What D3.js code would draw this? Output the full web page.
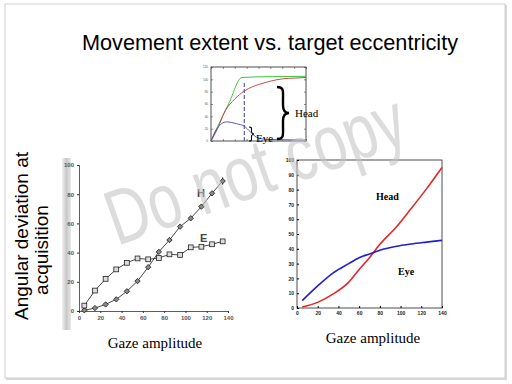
<!DOCTYPE html>
<html>
<head>
<meta charset="utf-8">
<script src="https://cdn.jsdelivr.net/npm/d3@7"></script>
<style>
  body { margin: 0; background: #fff; }
  svg { display: block; }
</style>
</head>
<body>
<div id="viz"></div>
<script>
// left chart (scanned figure): gaze amplitude vs angular deviation
const gazeX = [5, 15, 25, 35, 45, 55, 65, 75, 85, 95, 105, 115, 125, 135];
const headLeft = [0.5, 2, 4.5, 8, 13.5, 20.5, 30, 40.5, 48.6, 57.8, 63.5, 71.5, 80.6, 89];
const eyeLeft = [3.7, 14, 22, 28.5, 33, 36, 35.4, 36.3, 38.8, 38.4, 43.6, 44, 45.7, 47.7];
const leftXTicks = [0, 20, 40, 60, 80, 100, 120, 140];
const leftYTicks = [0, 20, 40, 60, 80, 100];

// right chart (model curves)
const modelX = [5, 20, 35, 50, 60, 70, 80, 95, 110, 125, 140];
const headRight = [0.7, 3.8, 9.5, 17.5, 26, 34, 43, 54, 67, 80.5, 95];
const eyeRight = [5, 15, 23.8, 30, 34, 36.5, 39, 41.5, 43.2, 44.5, 45.7];
const rightXTicks = [0, 20, 40, 60, 80, 100, 120, 140];
const rightYTicks = [0, 10, 20, 30, 40, 50, 60, 70, 80, 90, 100];

// small inset at top: time course of gaze, head and eye
const insetGreenX = [0, 10, 30, 52, 80, 120, 160];
const insetGreen = [0, 21, 61, 103, 104, 104.5, 105];
const insetRedX = [0, 10, 24, 40, 56, 70, 82, 100, 122, 140, 160];
const insetRed = [0, 18, 49, 68, 81, 88, 92, 97, 101, 102, 103];
const insetBlueX = [0, 10, 26, 43, 56, 66, 77, 94, 120, 150, 160];
const insetBlue = [0, 20, 31, 28, 24, 15, 6, 2.6, 2, 1.6, 1.5];
const insetXTicks = [0, 20, 40, 60, 80, 100, 120, 140, 160];
const insetYTicks = [0, 20, 40, 60, 80, 100, 120];
const insetDash = 56;

const svg = d3.select("#viz").append("svg")
  .attr("width", 512)
  .attr("height", 384);

// slide frame with soft shadow
svg.append("rect").attr("x", 6).attr("y", 5).attr("width", 501).attr("height", 375)
  .attr("fill", "#d8d8d8");
svg.append("rect").attr("x", 5).attr("y", 4).attr("width", 500).attr("height", 374)
  .attr("fill", "#fff").attr("stroke", "#cfcfcf");

svg.append("text")
  .attr("x", 270).attr("y", 50)
  .attr("text-anchor", "middle")
  .attr("font-family", "Arial, 'Liberation Sans', sans-serif")
  .attr("font-size", 21.7)
  .attr("fill", "#000")
  .text("Movement extent vs. target eccentricity");

// ---------- inset ----------
const ix = d3.scaleLinear().domain([0, 160]).range([211, 306]);
const iy = d3.scaleLinear().domain([0, 120]).range([141, 67]);
const inset = svg.append("g");
inset.append("rect").attr("x", 211).attr("y", 67).attr("width", 95).attr("height", 74)
  .attr("fill", "none").attr("stroke", "#222").attr("stroke-width", 0.8);
// tick marks only (no labels) on bottom, top and right
const bare = g => { g.select(".domain").remove(); g.selectAll("text").remove(); };
inset.append("g").attr("transform", "translate(0,141)")
  .call(d3.axisBottom(ix).tickValues(insetXTicks).tickSize(-2)).call(bare);
inset.append("g").attr("transform", "translate(0,67)")
  .call(d3.axisTop(ix).tickValues(insetXTicks).tickSize(-2)).call(bare);
inset.append("g").attr("transform", "translate(306,0)")
  .call(d3.axisRight(iy).tickValues(insetYTicks).tickSize(-2)).call(bare);
inset.append("g").attr("transform", "translate(211,0)")
  .call(d3.axisLeft(iy).tickValues(insetYTicks).tickSize(-2).tickPadding(3))
  .call(g => g.select(".domain").remove())
  .call(g => g.selectAll("text").attr("font-size", 3).attr("fill", "#555"));
inset.selectAll(".tick line").attr("stroke", "#444").attr("stroke-width", 0.6);

const insetLine = (xs, ys, color) => inset.append("path")
  .datum(xs.map((v, i) => [v, ys[i]]))
  .attr("fill", "none").attr("stroke", color).attr("stroke-width", 1)
  .attr("d", d3.line().x(d => ix(d[0])).y(d => iy(d[1])).curve(d3.curveMonotoneX));
insetLine(insetGreenX, insetGreen, "#3cc43c");
insetLine(insetRedX, insetRed, "#c84a4a");
insetLine(insetBlueX, insetBlue, "#5a50b8");
inset.append("line")
  .attr("x1", ix(insetDash)).attr("x2", ix(insetDash))
  .attr("y1", iy(0)).attr("y2", iy(97))
  .attr("stroke", "#3a3aa8").attr("stroke-width", 1).attr("stroke-dasharray", "4,2");

// curly braces drawn as paths
function brace(x, y0, y1, w) {
  const m = (y0 + y1) / 2, q = (y1 - y0) / 4;
  return `M${x},${y0} C${x + w * 0.6},${y0} ${x + w * 0.5},${y0 + q * 0.3} ${x + w * 0.5},${y0 + q}`
    + ` L${x + w * 0.5},${m - q * 0.6} C${x + w * 0.5},${m - 2} ${x + w * 0.7},${m} ${x + w},${m}`
    + ` C${x + w * 0.7},${m} ${x + w * 0.5},${m + 2} ${x + w * 0.5},${m + q * 0.6}`
    + ` L${x + w * 0.5},${y1 - q} C${x + w * 0.5},${y1 - q * 0.3} ${x + w * 0.6},${y1} ${x},${y1}`;
}
svg.append("path").attr("d", brace(277, 87, 139, 12))
  .attr("fill", "none").attr("stroke", "#000").attr("stroke-width", 2.4);
svg.append("path").attr("d", brace(249, 127, 141, 5))
  .attr("fill", "none").attr("stroke", "#000").attr("stroke-width", 1.1);
svg.append("text").attr("x", 295).attr("y", 117)
  .attr("font-family", "'Liberation Serif', 'Times New Roman', serif")
  .attr("font-size", 11).text("Head");
svg.append("text").attr("x", 256).attr("y", 142)
  .attr("font-family", "'Liberation Serif', 'Times New Roman', serif")
  .attr("font-size", 11).text("Eye");

// ---------- left chart ----------
const grad = svg.append("defs").append("linearGradient").attr("id", "strip");
grad.append("stop").attr("offset", "0%").attr("stop-color", "#f0f0f0");
grad.append("stop").attr("offset", "50%").attr("stop-color", "#c8c8c8");
grad.append("stop").attr("offset", "100%").attr("stop-color", "#e8e8e8");
svg.append("rect").attr("x", 62).attr("y", 158).attr("width", 9).attr("height", 172)
  .attr("fill", "url(#strip)");

const lx = d3.scaleLinear().domain([0, 140]).range([79, 228]);
const ly = d3.scaleLinear().domain([0, 100]).range([311, 165]);
const left = svg.append("g");
left.append("g").attr("transform", "translate(0,311)")
  .call(d3.axisBottom(lx).tickValues(leftXTicks).tickSize(2).tickPadding(3));
left.append("g").attr("transform", "translate(79,0)")
  .call(d3.axisLeft(ly).tickValues(leftYTicks).tickSize(2).tickPadding(3));
left.selectAll(".domain").attr("stroke", "#333").attr("stroke-width", 0.8);
left.selectAll(".tick line").attr("stroke", "#333");
left.selectAll(".tick text").attr("font-size", 6).attr("font-weight", "bold").attr("fill", "#555");

const lline = d3.line().x(d => lx(d[0])).y(d => ly(d[1]));
left.append("path").datum(gazeX.map((v, i) => [v, headLeft[i]]))
  .attr("fill", "none").attr("stroke", "#333").attr("stroke-width", 0.9).attr("d", lline);
left.append("path").datum(gazeX.map((v, i) => [v, eyeLeft[i]]))
  .attr("fill", "none").attr("stroke", "#333").attr("stroke-width", 0.9).attr("d", lline);

// error bar on last head point
left.append("line")
  .attr("x1", lx(135)).attr("x2", lx(135))
  .attr("y1", ly(91.5)).attr("y2", ly(86.5))
  .attr("stroke", "#222");

left.selectAll(".hd").data(gazeX.map((v, i) => [v, headLeft[i]])).join("rect")
  .attr("x", -1.9).attr("y", -1.9).attr("width", 3.8).attr("height", 3.8)
  .attr("transform", d => `translate(${lx(d[0])},${ly(d[1])}) rotate(45)`)
  .attr("fill", "#888").attr("stroke", "#222").attr("stroke-width", 0.8);
left.selectAll(".ey").data(gazeX.map((v, i) => [v, eyeLeft[i]])).join("rect")
  .attr("x", d => lx(d[0]) - 2.4).attr("y", d => ly(d[1]) - 2.4)
  .attr("width", 4.8).attr("height", 4.8)
  .attr("fill", "#ddd").attr("stroke", "#222").attr("stroke-width", 0.8);

left.append("text").attr("x", 197).attr("y", 197)
  .attr("font-family", "Arial, sans-serif").attr("font-weight", "bold")
  .attr("font-size", 11).attr("fill", "#444").text("H");
left.append("text").attr("x", 200).attr("y", 242)
  .attr("font-family", "Arial, sans-serif").attr("font-weight", "bold")
  .attr("font-size", 11).attr("fill", "#444").text("E");

// ---------- right chart ----------
const rx = d3.scaleLinear().domain([0, 140]).range([297, 442]);
const ry = d3.scaleLinear().domain([0, 100]).range([308, 160]);
const right = svg.append("g");
right.append("rect").attr("x", 297).attr("y", 160).attr("width", 145).attr("height", 148)
  .attr("fill", "none").attr("stroke", "#222").attr("stroke-width", 0.8);
right.append("g").attr("transform", "translate(0,308)")
  .call(d3.axisBottom(rx).tickValues(rightXTicks).tickSize(-2).tickPadding(3))
  .call(g => g.select(".domain").remove());
right.append("g").attr("transform", "translate(297,0)")
  .call(d3.axisLeft(ry).tickValues(rightYTicks).tickSize(-2).tickPadding(3))
  .call(g => g.select(".domain").remove());
right.selectAll(".tick text").attr("font-size", 5).attr("font-weight", "bold").attr("fill", "#222");

const rline = d3.line().x(d => rx(d[0])).y(d => ry(d[1])).curve(d3.curveMonotoneX);
right.append("path").datum(modelX.map((v, i) => [v, headRight[i]]))
  .attr("fill", "none").attr("stroke", "#e02828").attr("stroke-width", 1.6).attr("d", rline);
right.append("path").datum(modelX.map((v, i) => [v, eyeRight[i]]))
  .attr("fill", "none").attr("stroke", "#1f1fd0").attr("stroke-width", 1.6).attr("d", rline);

right.append("text").attr("x", 376).attr("y", 200)
  .attr("font-family", "'Liberation Serif', 'Times New Roman', serif")
  .attr("font-weight", "bold").attr("font-size", 10).text("Head");
right.append("text").attr("x", 398).attr("y", 275)
  .attr("font-family", "'Liberation Serif', 'Times New Roman', serif")
  .attr("font-weight", "bold").attr("font-size", 10).text("Eye");

// ---------- axis titles ----------
const yTitle = svg.append("text")
  .attr("transform", "translate(0,236) rotate(-90)")
  .attr("text-anchor", "middle")
  .attr("font-family", "Arial, 'Liberation Sans', sans-serif")
  .attr("font-size", 19).attr("fill", "#000");
yTitle.append("tspan").attr("x", 0).attr("y", 28).text("Angular deviation at");
yTitle.append("tspan").attr("x", -14).attr("y", 48).text("acquisition");

svg.append("text").attr("x", 155).attr("y", 348)
  .attr("text-anchor", "middle")
  .attr("font-family", "'Liberation Serif', 'Times New Roman', serif")
  .attr("font-size", 15).text("Gaze amplitude");
svg.append("text").attr("x", 373).attr("y", 343)
  .attr("text-anchor", "middle")
  .attr("font-family", "'Liberation Serif', 'Times New Roman', serif")
  .attr("font-size", 15).text("Gaze amplitude");

// ---------- watermark, semi-transparent on top ----------
svg.append("text")
  .attr("transform", "translate(264,194) rotate(-19.5)")
  .attr("text-anchor", "middle")
  .attr("font-family", "'Liberation Sans Narrow', Arial, sans-serif")
  .attr("font-size", 78)
  .attr("textLength", 312).attr("lengthAdjust", "spacingAndGlyphs")
  .attr("fill", "#c4c4c4").attr("fill-opacity", 0.6)
  .text("Do not copy");
</script>
</body>
</html>
